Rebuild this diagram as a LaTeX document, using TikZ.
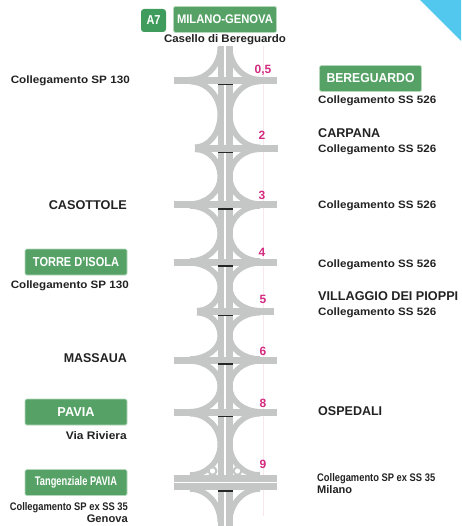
\documentclass[tikz,border=0pt]{standalone}
\usepackage{graphicx}
\usepackage{fontspec}
\setmainfont{Liberation Sans}
\definecolor{road}{HTML}{C5C7C7}
\definecolor{signg}{HTML}{56A266}
\definecolor{signl}{HTML}{B5D8BC}
\definecolor{azd}{HTML}{3F9C5C}
\definecolor{km}{HTML}{D42A80}
\definecolor{sky}{HTML}{52C8EE}
\definecolor{ink}{HTML}{222222}
\definecolor{hair}{HTML}{F7E8EF}
\newcommand\fs[3]{\resizebox{#2pt}{\height}{\fontsize{#1}{#1}\selectfont\bfseries #3}}
\newcommand\ramparc[4]{\draw[rampline] (#1,#2) .. controls ({#1+0.55*(#3-#1)},#2) and (#3,{#4+0.55*(#2-#4)}) .. (#3,#4);}
\newcommand\gapramps[4]{%
  \pgfmathsetmacro\ym{(#1+#2)/2}%
  \ramparc{260}{#1+1}{229.7}{\ym}\ramparc{260}{#2-1}{229.7}{\ym}%
  \ramparc{#3}{#1+1}{220.3}{\ym}\ramparc{#4}{#2-1}{220.3}{\ym}}
\tikzset{
  x=1pt,y=-1pt,
  rampline/.style={draw=road,line width=5.6pt},
  barline/.style={draw=road,line width=7pt},
  sign/.style={rectangle,fill=signg,draw=signl,line width=.7pt,rounded corners=1.5pt,inner sep=0,text=white,font=\bfseries},
  lab/.style={inner sep=0,text=ink},
  kmlab/.style={inner sep=0,text=km,font=\bfseries\fontsize{12}{12}\selectfont},
}
\begin{document}
\begin{tikzpicture}
\useasboundingbox (0,0) rectangle (461,526);
\fill[sky] (420,0) -- (461,0) -- (461,41) -- cycle;
\draw[hair,line width=.6pt] (263,46) -- (263,516);
\fill[road] (218,46) rectangle (232.5,526);
\fill[white] (224.4,46) rectangle (225.7,526);
\ramparc{260}{79.6}{229.7}{47}\ramparc{190}{79.6}{220.3}{47}
\gapramps{80.6}{148.3}{190}{195}
\gapramps{148.3}{205}{195}{190}
\gapramps{205}{262}{190}{190}
\gapramps{262}{311.7}{190}{197}
\gapramps{311.7}{360}{197}{190}
\gapramps{360}{412.7}{190}{190}
\gapramps{412.7}{476}{190}{190}
\ramparc{260}{489}{229.7}{522}\ramparc{190}{489}{220.3}{522}
\draw[barline] (174,80.6) -- (277,80.6);
\draw[barline] (195,148.3) -- (278,148.3);
\draw[barline] (174,205) -- (277,205);
\draw[barline] (174,262) -- (277,262);
\draw[barline] (197,311.7) -- (274,311.7);
\draw[barline] (174,360) -- (277,360);
\draw[barline] (174,412.7) -- (277,412.7);
\fill[road] (174,475) rectangle (277,490);
\fill[white] (174,482) rectangle (277,483);
\fill[road] (212.5,471) circle (5);
\fill[road] (237.5,471) circle (5);
\fill[white] (212.5,471) circle (2.6);
\fill[white] (237.5,471) circle (2.6);
\foreach \yy in {84.6,152.3,209,266,315.7,364,416.7,491}
  \fill[black!85] (217.5,\yy-.6) rectangle (232.5,\yy+.6);
\node[kmlab] (k05) at (263,70) {0,5};
\node[kmlab] (k2) at (262,135) {2};
\node[kmlab] (k3) at (262,195) {3};
\node[kmlab] (k4) at (262,252) {4};
\node[kmlab] (k5) at (263,299) {5};
\node[kmlab] (k6) at (263,351) {6};
\node[kmlab] (k8) at (263,403) {8};
\node[kmlab] (k9) at (263,464) {9};
\fill[azd,rounded corners=3pt] (141,9) rectangle (166,32);
\node[inner sep=0,text=white] (a7) at (153.5,20.5) {\fs{13}{14}{A7}};
\node[sign,minimum width=103pt,minimum height=26pt] (milano) at (225,19.5) {\fs{12.5}{96}{MILANO-GENOVA}};
\node[sign,minimum width=102pt,minimum height=26pt] (bere) at (370.5,78.5) {\fs{13}{88}{BEREGUARDO}};
\node[sign,minimum width=102pt,minimum height=26pt] (torre) at (76,262) {\fs{13}{86}{TORRE D'ISOLA}};
\node[sign,minimum width=102pt,minimum height=26pt] (pavia) at (76,412) {\fs{13}{37}{PAVIA}};
\node[sign,minimum width=102pt,minimum height=26pt] (tang) at (76,482.5) {\fs{12.5}{82}{Tangenziale PAVIA}};
\node[lab,anchor=base] (cas) at (225,43) {\fs{11}{122}{Casello di Bereguardo}};
\node[lab,anchor=base east] (l1) at (130,84) {\fs{10.7}{119}{Collegamento SP 130}};
\node[lab,anchor=base east] (l2) at (127,209.5) {\fs{12.7}{78}{CASOTTOLE}};
\node[lab,anchor=base east] (l3) at (129,288) {\fs{10.7}{118}{Collegamento SP 130}};
\node[lab,anchor=base east] (l4) at (127,362.5) {\fs{12.7}{63}{MASSAUA}};
\node[lab,anchor=base east] (l5) at (127,439) {\fs{11}{61}{Via Riviera}};
\node[lab,anchor=base east] (l6) at (128,510.5) {\fs{11}{118}{Collegamento SP ex SS 35}};
\node[lab,anchor=base east] (l7) at (128,522) {\fs{11}{41}{Genova}};
\node[lab,anchor=base west] (r1) at (318,104) {\fs{10.7}{118}{Collegamento SS 526}};
\node[lab,anchor=base west] (r2) at (318,137.5) {\fs{12.7}{62}{CARPANA}};
\node[lab,anchor=base west] (r3) at (318,153) {\fs{10.7}{118}{Collegamento SS 526}};
\node[lab,anchor=base west] (r4) at (318,208) {\fs{10.7}{118}{Collegamento SS 526}};
\node[lab,anchor=base west] (r5) at (318,267) {\fs{10.7}{118}{Collegamento SS 526}};
\node[lab,anchor=base west] (r6) at (318,300.5) {\fs{12.7}{140}{VILLAGGIO DEI PIOPPI}};
\node[lab,anchor=base west] (r7) at (318,315) {\fs{10.7}{118}{Collegamento SS 526}};
\node[lab,anchor=base west] (r8) at (318,415.5) {\fs{12.7}{64}{OSPEDALI}};
\node[lab,anchor=base west] (r9) at (317,481) {\fs{11}{118}{Collegamento SP ex SS 35}};
\node[lab,anchor=base west] (r10) at (317,493) {\fs{11}{35}{Milano}};
\end{tikzpicture}
\end{document}
